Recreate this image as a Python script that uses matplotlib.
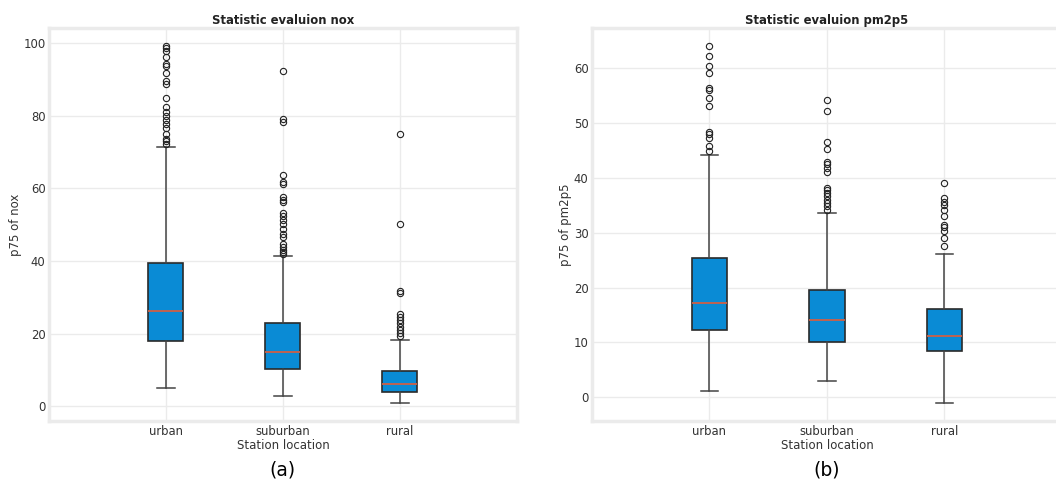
import matplotlib.pyplot as plt

# station categories
locations = ["urban", "suburban", "rural"]

# nox box stats
nox_med = [26.3, 14.8, 6.0]
nox_q1 = [18.0, 10.2, 3.75]
nox_q3 = [39.5, 22.8, 9.6]
nox_lo = [5.0, 2.8, 0.8]
nox_hi = [71.3, 41.5, 18.3]
nox_fliers_urban = [72.3, 73.0, 73.6, 75.0, 76.6, 77.7, 78.8, 80.0, 81.2, 82.5,
                    84.8, 88.7, 89.6, 91.9, 93.8, 94.4, 96.2, 97.9, 98.6, 99.3]
nox_fliers_suburban = [92.4, 78.2, 79.1, 63.6, 61.7, 61.1, 57.6, 56.7, 56.2, 53.2,
                       52.3, 51.4, 50.3, 48.9, 47.5, 46.6, 44.8, 43.9, 43.1, 42.5, 42.0]
nox_fliers_rural = [75.0, 50.1, 31.8, 31.3, 25.5, 24.6, 23.7, 22.8, 21.9, 21.0, 20.1, 19.3]

# pm2p5 box stats
pm_med = [17.1, 14.1, 11.2]
pm_q1 = [12.3, 10.1, 8.45]
pm_q3 = [25.35, 19.5, 16.05]
pm_lo = [1.1, 2.9, -1.1]
pm_hi = [44.1, 33.6, 26.1]
pm_fliers_urban = [64.1, 62.3, 60.5, 59.1, 56.4, 56.0, 54.5, 53.1, 48.3, 48.0, 47.3, 45.9, 44.9]
pm_fliers_suburban = [54.2, 52.3, 46.6, 45.3, 43.0, 42.6, 41.9, 41.0, 38.2, 37.8, 37.3,
                      36.7, 36.0, 35.4, 34.8, 34.2]
pm_fliers_rural = [39.1, 36.4, 35.7, 35.1, 34.2, 33.1, 31.5, 31.1, 30.3, 29.1, 27.5]


def make_stats(med, q1, q3, lo, hi, fliers):
    stats = []
    for i in range(len(med)):
        stats.append(dict(med=med[i], q1=q1[i], q3=q3[i], whislo=lo[i], whishi=hi[i],
                          fliers=fliers[i]))
    return stats


TEXT = "#333333"
GRID = "#ebebeb"


def draw(ax, stats, var, tag):
    ax.bxp(stats, positions=[1, 2, 3], widths=0.3, patch_artist=True,
           boxprops=dict(facecolor="#0a8bd5", edgecolor="#2a2a2a", linewidth=1.2),
           medianprops=dict(color="#cf5f45", linewidth=1.3),
           whiskerprops=dict(color="#444444", linewidth=1.1),
           capprops=dict(color="#444444", linewidth=1.1),
           flierprops=dict(marker="o", markersize=4.5, markerfacecolor="none",
                           markeredgecolor="#222222", markeredgewidth=0.8))
    ax.set_xlim(0, 4)
    ax.set_xticks([1, 2, 3])
    ax.set_xticklabels(locations)
    ax.set_title(f"Statistic evaluion {var}", fontsize=8.4, fontweight="bold", color="#222222", pad=3)
    ax.set_ylabel(f"p75 of {var}", fontsize=8.5, color=TEXT, labelpad=1)
    ax.set_xlabel("Station location", fontsize=8.5, color=TEXT, labelpad=1)
    ax.tick_params(length=0, labelsize=8.4, labelcolor=TEXT, pad=2.5)
    ax.grid(True, color=GRID, linewidth=1)
    ax.set_axisbelow(True)
    for s in ax.spines.values():
        s.set_color(GRID)
        s.set_linewidth(2.5)
    ax.text(0.5, -0.1, tag, transform=ax.transAxes, ha="center", va="top",
            fontsize=13.5, family="DejaVu Sans", color="black")


fig = plt.figure(figsize=(10.56, 4.79), dpi=100)
ax1 = fig.add_axes([0.0464, 0.121, 0.443, 0.8205])
ax2 = fig.add_axes([0.5606, 0.121, 0.445, 0.8205])

draw(ax1, make_stats(nox_med, nox_q1, nox_q3, nox_lo, nox_hi,
                     [nox_fliers_urban, nox_fliers_suburban, nox_fliers_rural]), "nox", "(a)")
draw(ax2, make_stats(pm_med, pm_q1, pm_q3, pm_lo, pm_hi,
                     [pm_fliers_urban, pm_fliers_suburban, pm_fliers_rural]), "pm2p5", "(b)")

fig.savefig("out.png", dpi=100)
